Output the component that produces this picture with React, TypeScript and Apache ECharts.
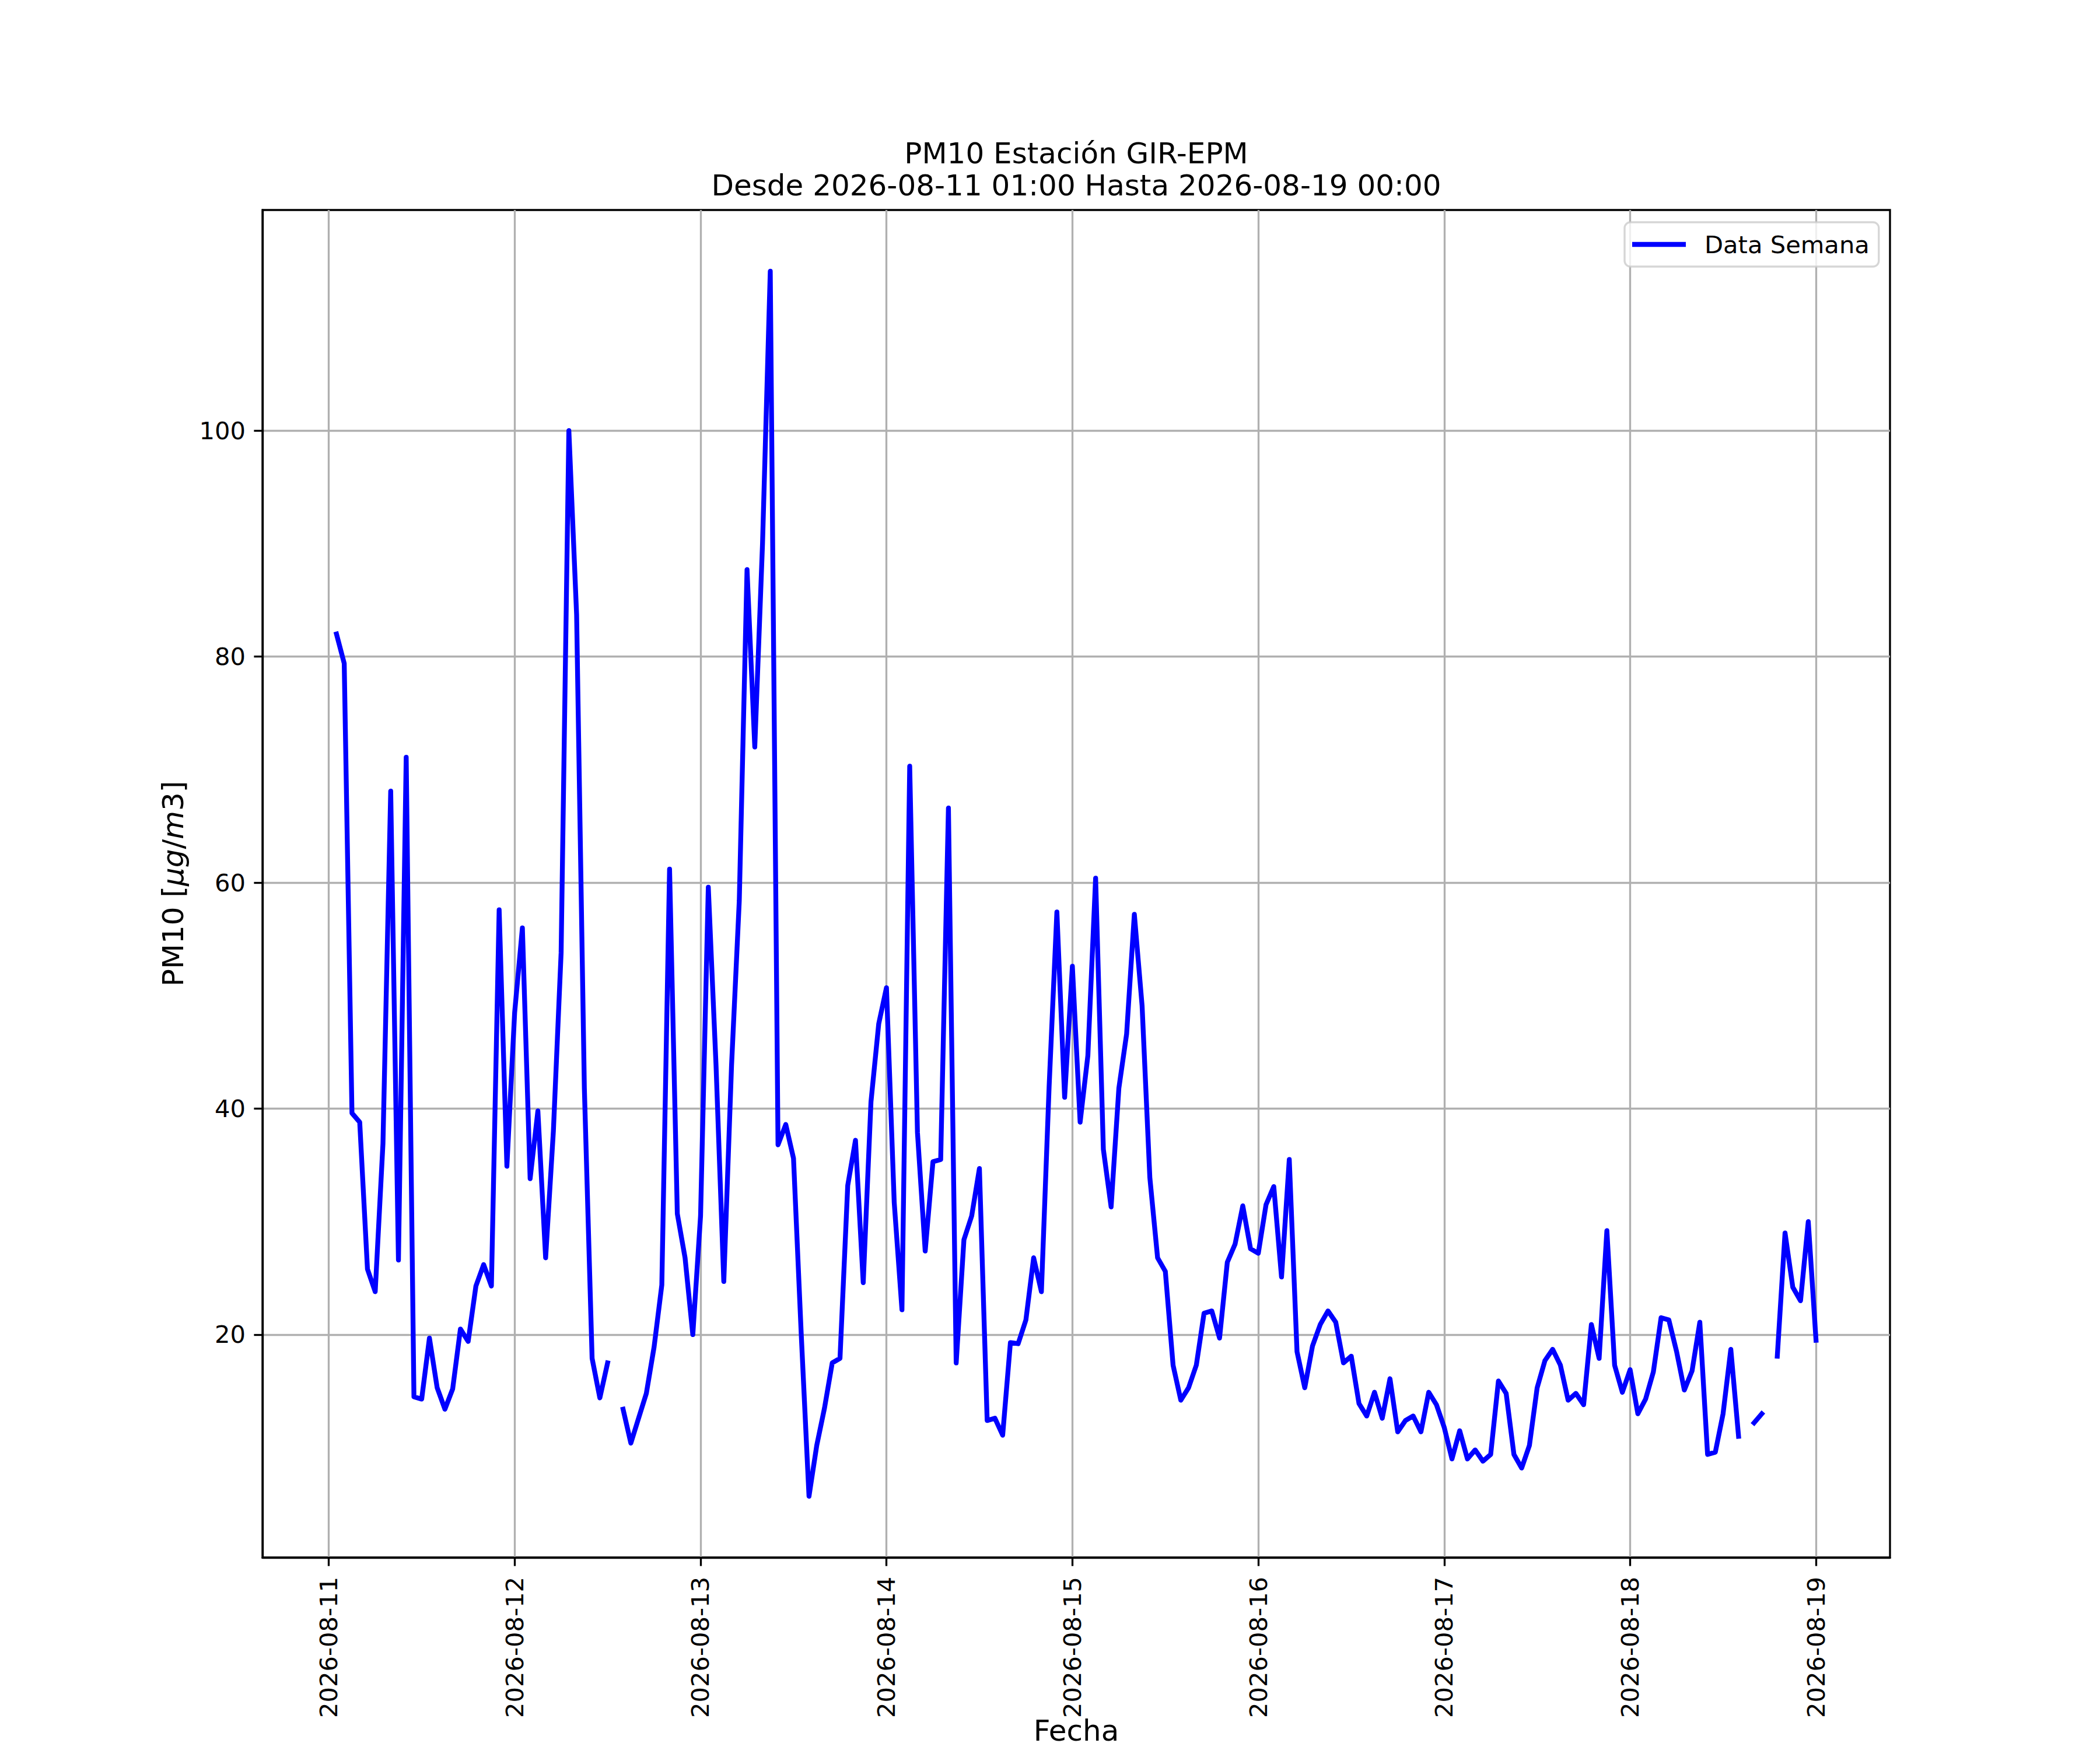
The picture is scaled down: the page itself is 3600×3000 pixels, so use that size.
import React, { useEffect, useRef } from "react";
import * as echarts from "echarts";

// Hourly PM10 values, each array = hours 01:00 .. 24:00 of that day (null = missing)
const day11 = [82.0, 79.4, 39.6, 38.8, 25.8, 23.8, 36.9, 68.1, 26.6, 71.1, 14.5, 14.3, 19.7, 15.3, 13.4, 15.2, 20.5, 19.4, 24.3, 26.2, 24.3, 57.6, 34.9, 48.5];
const day12 = [56.0, 33.8, 39.8, 26.8, 38.0, 53.8, 100.0, 83.7, 41.8, 17.9, 14.4, 17.5, null, 13.4, 10.4, 12.6, 14.8, 18.9, 24.4, 61.2, 30.7, 26.8, 20.0, 30.5];
const day13 = [59.6, 43.8, 24.7, 43.8, 58.4, 87.7, 72.0, 90.0, 114.1, 36.8, 38.6, 35.6, 20.0, 5.7, 10.2, 13.5, 17.5, 17.9, 33.2, 37.2, 24.6, 40.6, 47.5, 50.7];
const day14 = [31.7, 22.2, 70.3, 37.9, 27.4, 35.3, 35.5, 66.6, 17.5, 28.4, 30.5, 34.7, 12.4, 12.6, 11.1, 19.3, 19.2, 21.3, 26.8, 23.8, 42.0, 57.4, 41.0, 52.6];
const day15 = [38.8, 44.7, 60.4, 36.4, 31.3, 41.8, 46.6, 57.2, 49.1, 33.9, 26.8, 25.6, 17.3, 14.2, 15.3, 17.3, 21.9, 22.1, 19.7, 26.4, 28.0, 31.4, 27.6, 27.2];
const day16 = [31.5, 33.1, 25.1, 35.5, 18.5, 15.3, 19.0, 20.9, 22.1, 21.1, 17.5, 18.1, 13.9, 12.8, 14.9, 12.6, 16.1, 11.4, 12.4, 12.8, 11.4, 14.9, 13.8, 11.8];
const day17 = [9.0, 11.5, 9.0, 9.8, 8.8, 9.4, 15.9, 14.8, 9.4, 8.2, 10.2, 15.3, 17.7, 18.7, 17.3, 14.2, 14.8, 13.8, 20.9, 17.9, 29.2, 17.3, 14.9, 16.9];
const day18 = [13.0, 14.3, 16.7, 21.5, 21.3, 18.5, 15.1, 16.8, 21.1, 9.4, 9.6, 13.0, 18.7, 11.0, null, 12.2, 13.0, null, 18.1, 29.0, 24.2, 23.0, 30.0, 19.5];

const yTicks = [20, 40, 60, 80, 100];
const TITLE = "PM10 Estación GIR-EPM\nDesde 2026-08-11 01:00 Hasta 2026-08-19 00:00";
const SERIES_NAME = "Data Semana";

const HOUR = 3600000;
const DAY = 24 * HOUR;
const START = Date.UTC(2026, 7, 11, 0);

const pad2 = (n: number) => (n < 10 ? "0" + n : "" + n);
const fmtDay = (v: number) => {
  const d = new Date(v);
  return `${d.getUTCFullYear()}-${pad2(d.getUTCMonth() + 1)}-${pad2(d.getUTCDate())}`;
};

export default function App() {
  const ref = useRef<HTMLDivElement>(null);

  useEffect(() => {
    document.body.style.margin = "0";
    if (!ref.current) return;
    const chart = echarts.init(ref.current, null, { renderer: "svg" });

    const values = [...day11, ...day12, ...day13, ...day14, ...day15, ...day16, ...day17, ...day18];
    const data = values.map((v, i) => [START + (i + 1) * HOUR, v == null ? "-" : v]);
    const tFirst = START + HOUR;
    const tLast = START + values.length * HOUR;
    const xMargin = (tLast - tFirst) * 0.05;
    const nums = values.filter((v) => v != null) as number[];
    const vMin = Math.min(...nums);
    const vMax = Math.max(...nums);
    const yMargin = (vMax - vMin) * 0.05;
    const dayTicks: number[] = [];
    for (let t = START; t <= tLast; t += DAY) dayTicks.push(t);

    const FONT = "DejaVu Sans";
    const LW = 3.33;

    chart.setOption({
      animation: false,
      backgroundColor: "#ffffff",
      title: {
        text: TITLE,
        left: 1845,
        top: 235,
        padding: 0,
        textAlign: "center",
        textStyle: { fontFamily: FONT, fontSize: 50, fontWeight: "normal", color: "#000", lineHeight: 55 },
      },
      legend: {
        data: [{ name: SERIES_NAME, icon: "rect" }],
        left: 2785,
        top: 381,
        orient: "vertical",
        itemWidth: 92,
        itemHeight: 8.3,
        padding: [13, 16, 13, 13],
        backgroundColor: "rgba(255,255,255,0.8)",
        borderColor: "rgba(204,204,204,0.8)",
        borderWidth: LW,
        borderRadius: 10,
        textStyle: { fontFamily: FONT, fontSize: 41.67, color: "#000", lineHeight: 50, padding: [0, 0, 0, 27] },
      },
      grid: {
        left: 450,
        top: 360,
        width: 2790,
        height: 2310,
        show: true,
        borderColor: "#000",
        borderWidth: LW,
        backgroundColor: "#fff",
        containLabel: false,
        outerBoundsMode: "none",
      },
      xAxis: {
        type: "value",
        min: tFirst - xMargin,
        max: tLast + xMargin,
        minInterval: DAY,
        maxInterval: DAY,
        name: "Fecha",
        nameLocation: "middle",
        nameGap: 272,
        nameMoveOverlap: false,
        nameTextStyle: { fontFamily: FONT, fontSize: 50, color: "#000", lineHeight: 50 },
        axisLine: { show: true, lineStyle: { color: "#000", width: LW } },
        axisTick: { show: true, length: 14.6, lineStyle: { color: "#000", width: LW }, customValues: dayTicks },
        axisLabel: {
          show: true,
          rotate: 90,
          margin: 33,
          fontFamily: FONT,
          fontSize: 41.67,
          color: "#000",
          showMinLabel: true,
          showMaxLabel: true,
          customValues: dayTicks,
          formatter: (v: number) => fmtDay(v),
        },
        splitLine: { show: true, lineStyle: { color: "#b0b0b0", width: LW } },
      },
      yAxis: {
        type: "value",
        min: vMin - yMargin,
        max: vMax + yMargin,
        minInterval: 20,
        maxInterval: 20,
        name: "{n|PM10 [}{i|μg}{n|/}{i|m}{n|3]}",
        nameLocation: "middle",
        nameGap: 128,
        nameMoveOverlap: false,
        nameTextStyle: {
          fontFamily: FONT,
          fontSize: 50,
          color: "#000",
          rich: {
            n: { fontFamily: FONT, fontSize: 50, color: "#000", lineHeight: 50 },
            i: { fontFamily: FONT, fontSize: 50, color: "#000", fontStyle: "italic", lineHeight: 50 },
          },
        },
        axisLine: { show: true, lineStyle: { color: "#000", width: LW } },
        axisTick: { show: true, length: 14.6, lineStyle: { color: "#000", width: LW }, customValues: yTicks },
        axisLabel: {
          show: true,
          margin: 29,
          fontFamily: FONT,
          fontSize: 41.67,
          color: "#000",
          showMinLabel: true,
          showMaxLabel: true,
          customValues: yTicks,
        },
        splitLine: { show: true, lineStyle: { color: "#b0b0b0", width: LW } },
      },
      series: [
        {
          name: SERIES_NAME,
          type: "line",
          data,
          showSymbol: false,
          symbol: "none",
          connectNulls: false,
          clip: true,
          itemStyle: { color: "#0000ff" },
          lineStyle: { color: "#0000ff", width: 8.3, cap: "square", join: "round" },
          z: 3,
        },
      ],
    });

    return () => chart.dispose();
  }, []);

  return <div ref={ref} style={{ width: 3600, height: 3000 }} />;
}
